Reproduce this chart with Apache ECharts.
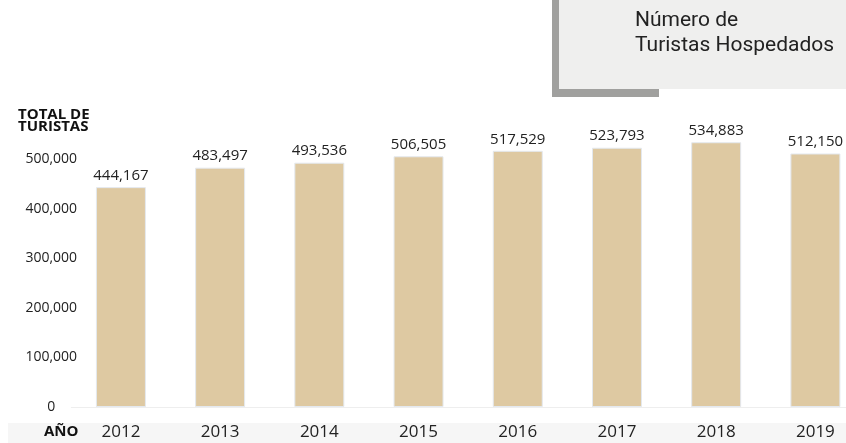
<!DOCTYPE html>
<html>
<head>
<meta charset="utf-8">
<script src="https://cdn.jsdelivr.net/npm/echarts@6/dist/echarts.min.js"></script>
<style>
  html, body { margin: 0; padding: 0; background: #fff; overflow: hidden; }
  #chart { width: 865px; height: 443px; }
</style>
</head>
<body>
<div id="chart"></div>
<script>
// Tourists hosted per year
const years = ['2012', '2013', '2014', '2015', '2016', '2017', '2018', '2019'];
const tourists = [444167, 483497, 493536, 506505, 517529, 523793, 534883, 512150];
const yTicks = [0, 100000, 200000, 300000, 400000, 500000];

const fmt = v => v.toLocaleString('en-US');

const chart = echarts.init(document.getElementById('chart'));
chart.setOption({
  animation: false,
  textStyle: { fontFamily: 'Open Sans' },
  grid: { left: 71.3, right: 0, top: 110, bottom: 36, containLabel: false },
  graphic: [
    // shaded label band under the x axis
    { type: 'rect', shape: { x: 8, y: 423, width: 860, height: 20 }, style: { fill: '#f6f6f6' }, z: -10 },
    // title card with offset shadow
    { type: 'rect', shape: { x: 552, y: 0, width: 107, height: 97 }, style: { fill: '#a0a09e' }, z: -5 },
    { type: 'rect', shape: { x: 559, y: 0, width: 310, height: 89 }, style: { fill: '#efefee' }, z: -4 },
    { type: 'text', left: 635, top: 8, style: { text: 'Número de\nTuristas Hospedados', font: '21px Roboto', lineHeight: 25, fill: '#222' } },
    { type: 'text', left: 18, top: 107, style: { text: 'TOTAL DE\nTURISTAS', font: 'bold 15px "Open Sans"', lineHeight: 12, fill: '#111' } },
    { type: 'text', left: 44, top: 424, style: { text: 'AÑO', font: 'bold 15px "Open Sans"', fill: '#111' } }
  ],
  xAxis: {
    type: 'category',
    data: years,
    axisLine: { show: true, lineStyle: { color: '#eeeeee', width: 1 } },
    axisTick: { show: false },
    axisLabel: { color: '#222', fontSize: 17, margin: 17, fontFamily: 'Open Sans' }
  },
  yAxis: {
    type: 'value',
    min: 0,
    max: 600000,
    interval: 100000,
    splitLine: { show: false },
    axisLine: { show: false },
    axisTick: { show: false },
    axisLabel: {
      color: '#222', fontSize: 14, align: 'center', margin: 20, fontFamily: 'Open Sans',
      formatter: v => yTicks.includes(v) ? fmt(v) : ''
    }
  },
  series: [{
    type: 'bar',
    data: tourists,
    barWidth: 50,
    itemStyle: { color: '#dec9a2', borderColor: '#e4e9ef', borderWidth: 1 },
    label: {
      show: true, position: 'top', distance: 4, color: '#222', fontSize: 15,
      fontFamily: 'Open Sans', formatter: p => fmt(p.value)
    }
  }]
});
</script>
</body>
</html>
